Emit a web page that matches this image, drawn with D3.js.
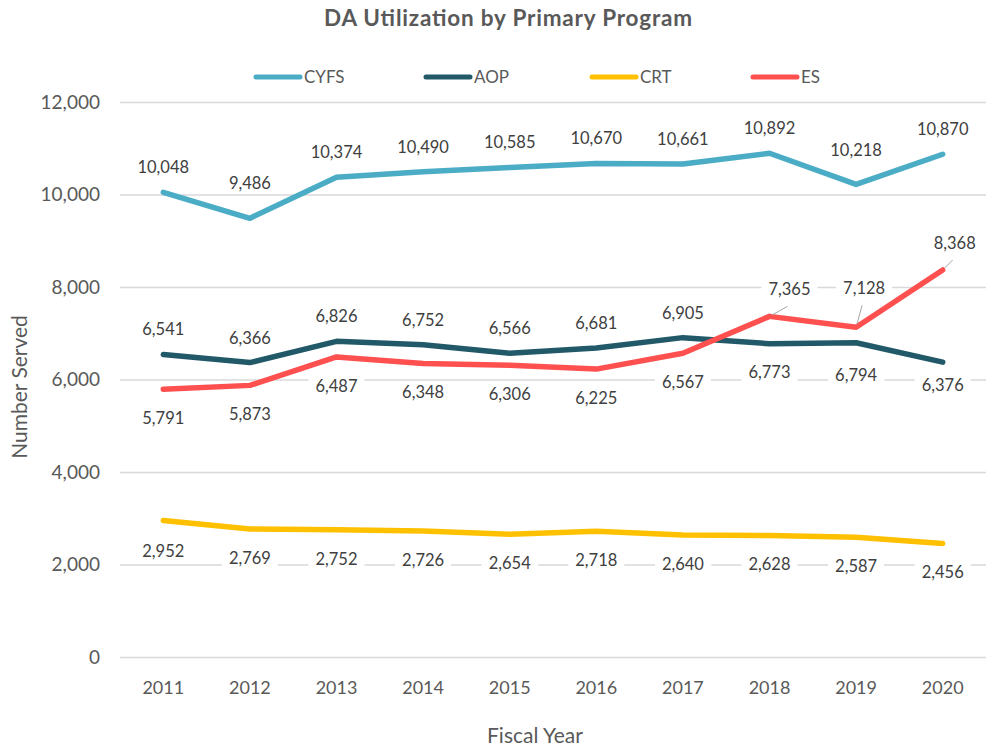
<!DOCTYPE html>
<html><head><meta charset="utf-8">
<script src="https://cdn.jsdelivr.net/npm/d3@7"></script>
<style>body{margin:0;background:#fff}svg{display:block}text{font-family:Lato,"Open Sans",sans-serif}</style>
</head><body><svg id="c" width="986" height="749"></svg>
<script>
const years = [2011, 2012, 2013, 2014, 2015, 2016, 2017, 2018, 2019, 2020];
const seriesNames = ["CYFS", "AOP", "CRT", "ES"];
const cyfs = [10048, 9486, 10374, 10490, 10585, 10670, 10661, 10892, 10218, 10870];
const aop  = [6541, 6366, 6826, 6752, 6566, 6681, 6905, 6773, 6794, 6376];
const crt  = [2952, 2769, 2752, 2726, 2654, 2718, 2640, 2628, 2587, 2456];
const es   = [5791, 5873, 6487, 6348, 6306, 6225, 6567, 7365, 7128, 8368];
const yTicks = [0, 2000, 4000, 6000, 8000, 10000, 12000];

// label placement (a = above, b = below) and small nudges [dx, dy], leader flag
const placement = {
  CYFS: ["a","a","a","a","a","a","a","a","a","a"],
  AOP:  ["a","a","a","a","a","a","a","b","b","b"],
  CRT:  ["b","b","b","b","b","b","b","b","b","b"],
  ES:   ["b","b","b","b","b","b","b","a","a","a"]
};
const nudges = {
  CYFS: {1: [0,-10], 8: [0,-9]},
  AOP:  {7: [0,-1], 8: [0,3], 9: [0,-6]},
  CRT:  {0: [0,2]},
  ES:   {7: [20,-2, 1], 8: [8,-14, 1], 9: [12,-2, 1]}
};
const colors = {CYFS: "#4bacc6", AOP: "#215968", CRT: "#ffc000", ES: "#ff5050"};
const values = {CYFS: cyfs, AOP: aop, CRT: crt, ES: es};

const svg = d3.select("#c");
const x = d3.scaleBand().domain(years).range([120, 986]);
const y = d3.scaleLinear().domain([0, 12000]).range([657, 102]);
const cx = d => x(d) + x.bandwidth() / 2;
const txt = "#595959";

// title
svg.append("text").attr("x", 508).attr("y", 26).attr("text-anchor", "middle")
  .attr("font-size", 22.5).attr("font-weight", 700).attr("fill", txt)
  .attr("textLength", 368).attr("lengthAdjust", "spacing")
  .text("DA Utilization by Primary Program");

// gridlines + y axis
const yAxis = d3.axisLeft(y).tickValues(yTicks).tickSize(-(986 - 120)).tickFormat(d3.format(","));
const gy = svg.append("g").attr("transform", "translate(120,0)").call(yAxis);
gy.select(".domain").remove();
gy.selectAll(".tick line").attr("stroke", "#d9d9d9").attr("stroke-width", 1.5);
gy.selectAll(".tick text").attr("x", -20).attr("fill", txt).attr("font-size", 19)
  .attr("font-family", "Lato, sans-serif");

// x axis
const xAxis = d3.axisBottom(x).tickSize(0);
const gx = svg.append("g").attr("transform", "translate(0,657)").call(xAxis);
gx.select(".domain").remove();
gx.selectAll(".tick text").attr("dy", 0).attr("y", 37).attr("fill", txt).attr("font-size", 18)
  .attr("font-family", "Lato, sans-serif");

// axis titles
svg.append("text").attr("transform", "translate(27,387) rotate(-90)").attr("text-anchor", "middle")
  .attr("font-size", 21).attr("fill", txt).text("Number Served");
svg.append("text").attr("x", 535).attr("y", 743).attr("text-anchor", "middle")
  .attr("font-size", 21).attr("fill", txt).text("Fiscal Year");

// legend
const legendX = [254, 424, 590, 751];
seriesNames.forEach((s, i) => {
  const g = svg.append("g");
  g.append("line").attr("x1", legendX[i] + 2).attr("x2", legendX[i] + 46).attr("y1", 77).attr("y2", 77)
    .attr("stroke", colors[s]).attr("stroke-width", 5).attr("stroke-linecap", "round");
  g.append("text").attr("x", legendX[i] + 50).attr("y", 77).attr("dy", "0.35em")
    .attr("font-size", 17).attr("fill", txt).text(s);
});

// lines
const line = d3.line().x((d, i) => cx(years[i])).y(d => y(d));
["CYFS", "AOP", "CRT", "ES"].forEach(s => {
  svg.append("path").datum(values[s]).attr("d", line).attr("fill", "none")
    .attr("stroke", colors[s]).attr("stroke-width", 5.5)
    .attr("stroke-linejoin", "round").attr("stroke-linecap", "round");
});

// data labels
const fmt = d3.format(",");
const labelLayer = svg.append("g");
seriesNames.forEach(s => {
  values[s].forEach((v, i) => {
    const px = cx(years[i]), py = y(v);
    const n = nudges[s][i] || [0, 0];
    const lx = px + n[0];
    const ly = (placement[s][i] === "a" ? py - 25 : py + 29) + n[1];
    if (n[2]) {
      const ex = lx - 2, ey = ly + 17;
      const dx = ex - px, dy = ey - py, len = Math.hypot(dx, dy);
      labelLayer.append("line").attr("x1", px + dx / len * 3).attr("y1", py + dy / len * 3)
        .attr("x2", ex).attr("y2", ey).attr("stroke", "#a6a6a6").attr("stroke-width", 1);
    }
    const g = labelLayer.append("g");
    const t = g.append("text").attr("x", lx).attr("y", ly).attr("dy", "0.36em")
      .attr("text-anchor", "middle").attr("font-size", 16.5).attr("fill", "#404040").text(fmt(v));
    const bb = t.node().getBBox();
    g.insert("rect", "text").attr("x", bb.x - 7).attr("y", bb.y).attr("width", bb.width + 14)
      .attr("height", bb.height).attr("fill", "#fff");
  });
});
</script></body></html>
